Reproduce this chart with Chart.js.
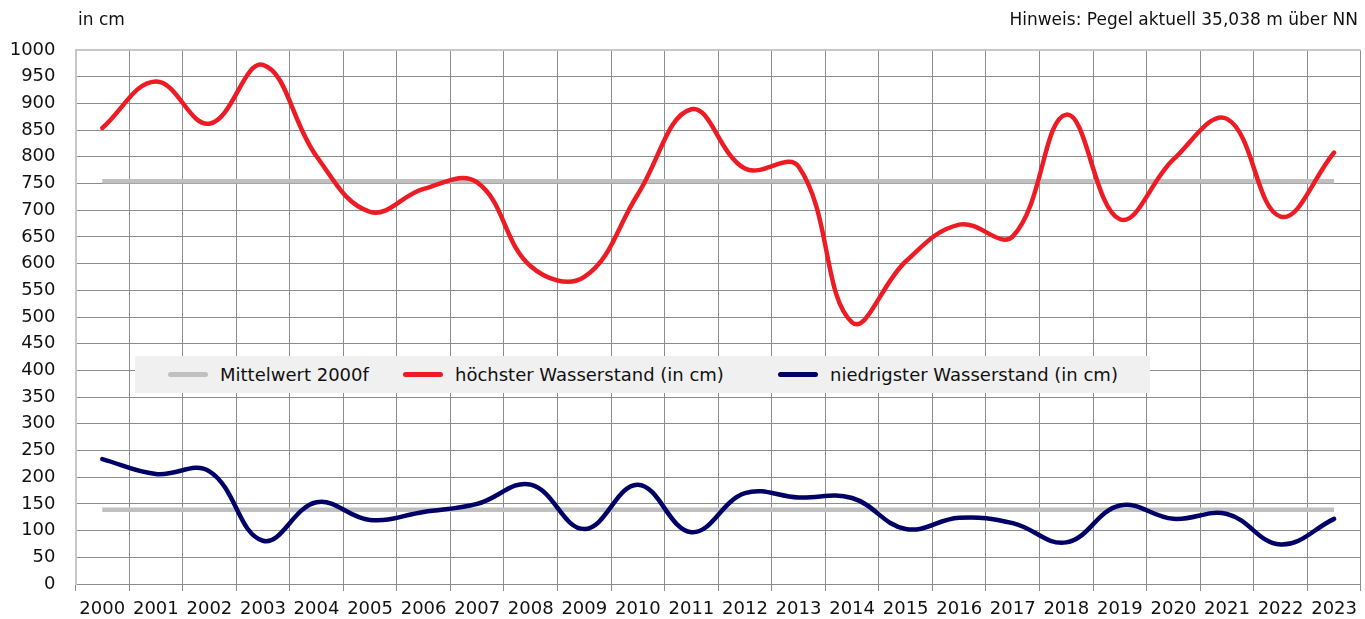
<!DOCTYPE html>
<html lang="de">
<head>
<meta charset="utf-8">
<title>Wasserstand</title>
<script src="https://cdn.jsdelivr.net/npm/chart.js@4.4.1/dist/chart.umd.min.js"></script>
<style>
    html, body { margin: 0; padding: 0; background: #fff; }
    #wrap { position: relative; width: 1365px; height: 619px; font-family: "DejaVu Sans", sans-serif; color: #111; }
    #pegel { position: absolute; left: 0; top: 0; }
    .note { position: absolute; font-size: 17px; white-space: nowrap; }
    #unit { left: 78px; top: 9px; }
    #hint { right: 7px; top: 9px; }
    #legend { position: absolute; left: 135px; top: 356px; width: 1015px; height: 37px; background: #f0f0f0; font-size: 18px; }
    .item { position: absolute; top: 0; height: 37px; line-height: 37px; white-space: nowrap; }
    .swatch { position: absolute; top: 16px; width: 40px; height: 5px; border-radius: 3px; }
    .label { position: absolute; left: 52px; top: 0; }
</style>
</head>
<body>
<div id="wrap">
    <canvas id="pegel" width="1365" height="619"></canvas>
    <div class="note" id="unit">in cm</div>
    <div class="note" id="hint">Hinweis: Pegel aktuell 35,038 m über NN</div>
    <div id="legend"></div>
</div>
<script>
(function () {
    'use strict';

    var jahre = ['2000', '2001', '2002', '2003', '2004', '2005', '2006', '2007', '2008', '2009', '2010', '2011',
        '2012', '2013', '2014', '2015', '2016', '2017', '2018', '2019', '2020', '2021', '2022', '2023'];

    var hoechster = [854, 941, 862, 972, 801, 697, 740, 752, 595, 575, 730, 889,
        778, 782, 490, 604, 673, 651, 879, 683, 795, 871, 688, 808];

    var niedrigster = [234, 206, 211, 81, 153, 120, 135, 150, 186, 103, 186, 97,
        170, 162, 161, 103, 124, 114, 78, 147, 122, 131, 74, 122];

    var mittelHoch = [754, 754, 754, 754, 754, 754, 754, 754, 754, 754, 754, 754,
        754, 754, 754, 754, 754, 754, 754, 754, 754, 754, 754, 754];

    var mittelTief = [139, 139, 139, 139, 139, 139, 139, 139, 139, 139, 139, 139,
        139, 139, 139, 139, 139, 139, 139, 139, 139, 139, 139, 139];

    var legendItems = [
        {text: 'Mittelwert 2000f', color: '#c0c0c0', left: 33},
        {text: 'höchster Wasserstand (in cm)', color: '#ed1c24', left: 268},
        {text: 'niedrigster Wasserstand (in cm)', color: '#000066', left: 643}
    ];

    var tickFont = {family: '"DejaVu Sans", sans-serif', size: 18};

    function buildLegend() {
        var box = document.getElementById('legend');
        legendItems.forEach(function (item) {
            var el = document.createElement('div');
            el.className = 'item';
            el.style.left = item.left + 'px';
            el.innerHTML = '<span class="swatch" style="background:' + item.color + '"></span>' +
                '<span class="label">' + item.text + '</span>';
            box.appendChild(el);
        });
    }

    function chartPegel() {
        var ctx = document.getElementById('pegel');

        new Chart(ctx, {
            type: 'line',
            data: {
                labels: jahre,
                datasets: [
                    {
                        label: 'höchster Wasserstand (in cm)',
                        data: hoechster,
                        borderColor: '#ed1c24',
                        borderWidth: 4.5,
                        tension: 0.4,
                        order: 1
                    },
                    {
                        label: 'niedrigster Wasserstand (in cm)',
                        data: niedrigster,
                        borderColor: '#000066',
                        borderWidth: 4.5,
                        tension: 0.4,
                        order: 1
                    },
                    {
                        label: 'Mittelwert 2000f',
                        data: mittelHoch,
                        borderColor: '#c0c0c0',
                        borderWidth: 4.5,
                        borderCapStyle: 'butt',
                        order: 2
                    },
                    {
                        label: 'Mittelwert 2000f ',
                        data: mittelTief,
                        borderColor: '#c0c0c0',
                        borderWidth: 4.5,
                        borderCapStyle: 'butt',
                        order: 2
                    }
                ]
            },
            options: {
                responsive: false,
                animation: false,
                layout: {padding: {top: 50, right: 0, left: 0, bottom: 0}},
                elements: {
                    point: {radius: 0, hoverRadius: 0},
                    line: {borderCapStyle: 'round', borderJoinStyle: 'round'}
                },
                plugins: {
                    legend: {display: false},
                    tooltip: {enabled: false}
                },
                scales: {
                    x: {
                        offset: true,
                        grid: {
                            offset: true,
                            color: '#8c8c8c',
                            lineWidth: 1,
                            tickLength: 7
                        },
                        border: {color: '#8c8c8c', width: 1},
                        ticks: {
                            font: tickFont,
                            color: '#111',
                            padding: 8,
                            maxRotation: 0,
                            autoSkip: false
                        },
                        afterFit: function (scale) {
                            scale.height = 35;
                        }
                    },
                    y: {
                        min: 0,
                        max: 1000,
                        grid: {
                            drawTicks: false,
                            color: function (c) {
                                return c.tick && c.tick.value === 1000 ? '#c8c8c8' : '#8c8c8c';
                            },
                            lineWidth: function (c) {
                                return c.tick && c.tick.value === 1000 ? 2 : 1;
                            }
                        },
                        border: {color: '#c8c8c8', width: 2},
                        ticks: {
                            stepSize: 50,
                            font: tickFont,
                            color: '#111',
                            padding: 20,
                            callback: function (value) {
                                return String(value);
                            }
                        },
                        afterFit: function (scale) {
                            scale.width = 75.5;
                        }
                    }
                }
            }
        });
    }

    buildLegend();
    chartPegel();
})();
</script>
</body>
</html>
